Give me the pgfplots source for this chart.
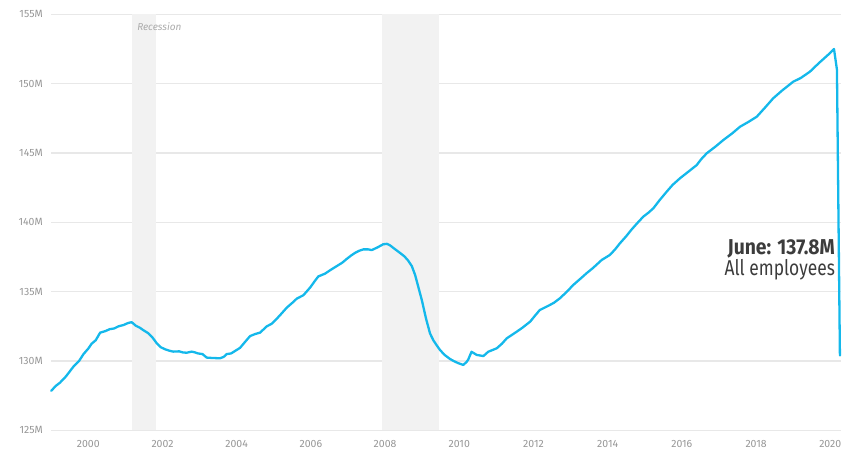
\documentclass[border=0pt]{standalone}
\usepackage{fontspec}
\setmainfont{Fira Sans}
\newfontfamily\annotb[FakeStretch=0.9]{Fira Sans}
\newfontfamily\annotr[FakeStretch=0.81]{Fira Sans}
\usepackage{pgfplots}
\pgfplotsset{compat=1.18}
\definecolor{linecol}{RGB}{20,184,235}
\definecolor{shade}{RGB}{242,242,242}
\definecolor{gridc}{RGB}{232,232,232}
\definecolor{tickc}{RGB}{150,150,150}
\definecolor{annc}{RGB}{60,60,60}
\begin{document}
\begin{tikzpicture}
\begin{axis}[
  name=ax,
  scale only axis,
  width=790.2bp, height=416.1bp,
  xmin=1999, xmax=2020.3,
  ymin=125, ymax=155,
  clip=false,
  axis line style={draw=none},
  tick style={draw=none},
  major tick length=0pt,
  ymajorgrids,
  grid style={color=gridc, line width=1.3bp},
  ytick={125,130,...,155},
  xtick={2000,2002,...,2020},
  /pgf/number format/assume math mode=true,
  /pgf/number format/1000 sep={},
  yticklabel={\pgfmathprintnumber{\tick}M},
  ticklabel style={font=\fontsize{10.5bp}{12bp}\selectfont, text=tickc},
  yticklabel style={xshift=-5bp},
  xticklabel style={yshift=-6bp},
]
\addplot[fill=shade, draw=none] coordinates {(2001.18,125) (2001.18,155) (2001.82,155) (2001.82,125)} -- cycle;
\addplot[fill=shade, draw=none] coordinates {(2007.92,125) (2007.92,155) (2009.44,155) (2009.44,125)} -- cycle;
\addplot[color=linecol, line width=2.3bp, line join=round, line cap=round] coordinates {
(1999.00,127.85) (1999.12,128.2) (1999.24,128.45) (1999.40,128.9) (1999.60,129.6)
(1999.75,130.0) (1999.87,130.5) (2000.00,130.9) (2000.09,131.25) (2000.20,131.5)
(2000.32,132.05) (2000.45,132.15) (2000.58,132.3) (2000.70,132.35) (2000.81,132.5)
(2000.95,132.6) (2001.08,132.75) (2001.17,132.8) (2001.28,132.55) (2001.39,132.4)
(2001.50,132.2) (2001.62,132.0) (2001.73,131.7) (2001.84,131.3) (2001.95,131.0)
(2002.07,130.85) (2002.18,130.75) (2002.29,130.68) (2002.45,130.7) (2002.55,130.62)
(2002.65,130.6) (2002.79,130.68) (2002.88,130.62) (2002.96,130.55) (2003.08,130.5)
(2003.19,130.25) (2003.35,130.22) (2003.55,130.2) (2003.65,130.3) (2003.73,130.5)
(2003.85,130.55) (2004.00,130.8) (2004.09,130.95) (2004.20,131.3) (2004.36,131.8)
(2004.50,131.95) (2004.63,132.05) (2004.81,132.5) (2004.95,132.7) (2005.08,133.05)
(2005.20,133.4) (2005.35,133.85) (2005.50,134.2) (2005.62,134.5) (2005.80,134.75)
(2005.98,135.3) (2006.10,135.75) (2006.20,136.1) (2006.38,136.3) (2006.55,136.6)
(2006.70,136.85) (2006.85,137.1) (2006.96,137.35) (2007.08,137.6) (2007.19,137.8)
(2007.30,137.95) (2007.41,138.05) (2007.55,138.05) (2007.64,138.0) (2007.80,138.2)
(2007.95,138.42) (2008.05,138.45) (2008.13,138.35) (2008.25,138.1) (2008.40,137.8)
(2008.52,137.55) (2008.62,137.25) (2008.72,136.85) (2008.81,136.2) (2008.90,135.3)
(2008.99,134.4) (2009.10,133.1) (2009.21,132.0) (2009.30,131.5) (2009.40,131.1)
(2009.48,130.8) (2009.60,130.45) (2009.75,130.15) (2009.85,130.0) (2009.97,129.85)
(2010.11,129.72) (2010.20,129.95) (2010.24,130.1) (2010.33,130.67) (2010.47,130.44)
(2010.65,130.36) (2010.78,130.67) (2011.01,130.92) (2011.15,131.25) (2011.28,131.64)
(2011.40,131.85) (2011.55,132.12) (2011.70,132.4) (2011.91,132.84) (2012.05,133.3)
(2012.17,133.68) (2012.30,133.85) (2012.44,134.04) (2012.55,134.2) (2012.71,134.52)
(2012.90,135.0) (2013.07,135.48) (2013.25,135.9) (2013.43,136.33) (2013.60,136.7)
(2013.84,137.29) (2014.06,137.65) (2014.20,138.05) (2014.33,138.49) (2014.50,139.0)
(2014.65,139.5) (2014.80,139.95) (2014.96,140.41) (2015.10,140.7) (2015.23,141.01)
(2015.40,141.6) (2015.59,142.21) (2015.75,142.7) (2015.95,143.18) (2016.15,143.6)
(2016.40,144.13) (2016.52,144.55) (2016.67,144.98) (2016.90,145.45) (2017.12,145.94)
(2017.35,146.4) (2017.57,146.9) (2017.80,147.25) (2018.02,147.62) (2018.25,148.3)
(2018.46,148.94) (2018.70,149.5) (2019.00,150.14) (2019.20,150.4) (2019.45,150.86)
(2019.70,151.5) (2019.95,152.1) (2020.10,152.5) (2020.18,151.0) (2020.26,130.4)
};
\node[anchor=west, inner sep=0pt, xshift=5bp, text=black!33, font=\itshape\fontsize{10bp}{12bp}\selectfont] at (axis cs:2001.18,154.08) {Recession};
\node[anchor=north east, inner sep=0pt, align=right, text=annc, font=\fontsize{21.5bp}{18.3bp}\selectfont] at (axis cs:2020.13,138.78) {{\annotb\bfseries June: 137.8M}\\{\annotr All employees}};
\end{axis}
\pgfresetboundingbox
\path ([shift={(-51.2bp,-20.6bp)}]ax.south west) rectangle ([shift={(0.6bp,14.3bp)}]ax.north east);
\end{tikzpicture}
\end{document}
